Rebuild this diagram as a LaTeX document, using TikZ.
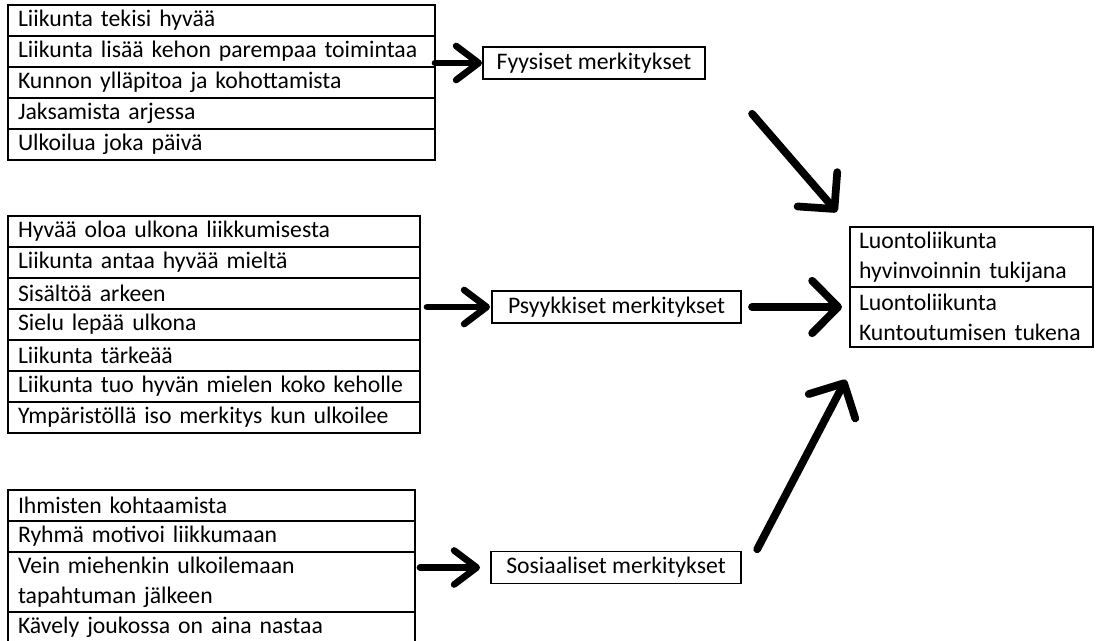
\documentclass[tikz,border=0pt]{standalone}
\usepackage{fontspec}
\setmainfont{Carlito}
\usepackage{tikz}
\usetikzlibrary{positioning,arrows.meta,calc}

\tikzset{
    rivi/.style={draw, line width=0.8pt, outer sep=0pt, inner xsep=0.2cm, inner ysep=0pt,
                 minimum height=0.62cm, text width=#1, align=left},
    merkitys/.style={draw, line width=0.8pt, outer sep=0pt, inner xsep=0.2cm, minimum height=0.6cm},
    nuoli/.style={line width=3.8pt, line cap=round, -{Straight Barb[round,length=0.45cm,width=0.68cm]}},
    isonuoli/.style={line width=4.4pt, line cap=round, -{Straight Barb[round,length=0.52cm,width=1.05cm]}}
}

\begin{document}
\begin{tikzpicture}[font=\fontsize{13.5}{17}\selectfont]
    \useasboundingbox (0,0) rectangle (22.02,-12.82);
    % Disegna la prima lista (fyysiset)
    \node[rivi=8.14cm, anchor=north west] (f1) at (0.16,-0.1) {Liikunta tekisi hyvää};
    \node[rivi=8.14cm, below=0pt of f1] (f2) {Liikunta lisää kehon parempaa toimintaa};
    \node[rivi=8.14cm, below=0pt of f2] (f3) {Kunnon ylläpitoa ja kohottamista};
    \node[rivi=8.14cm, below=0pt of f3] (f4) {Jaksamista arjessa};
    \node[rivi=8.14cm, below=0pt of f4] (f5) {Ulkoilua joka päivä};
    % Disegna la seconda lista (psyykkiset)
    \node[rivi=7.84cm, anchor=north west] (p1) at (0.16,-4.32) {Hyvää oloa ulkona liikkumisesta};
    \node[rivi=7.84cm, below=0pt of p1] (p2) {Liikunta antaa hyvää mieltä};
    \node[rivi=7.84cm, below=0pt of p2] (p3) {Sisältöä arkeen};
    \node[rivi=7.84cm, below=0pt of p3] (p4) {Sielu lepää ulkona};
    \node[rivi=7.84cm, below=0pt of p4] (p5) {Liikunta tärkeää};
    \node[rivi=7.84cm, below=0pt of p5] (p6) {Liikunta tuo hyvän mielen koko keholle};
    \node[rivi=7.84cm, below=0pt of p6] (p7) {Ympäristöllä iso merkitys kun ulkoilee};
    % Disegna la terza lista (sosiaaliset)
    \node[rivi=7.74cm, anchor=north west] (s1) at (0.16,-9.8) {Ihmisten kohtaamista};
    \node[rivi=7.74cm, below=0pt of s1] (s2) {Ryhmä motivoi liikkumaan};
    \node[rivi=7.74cm, below=0pt of s2, minimum height=1.2cm] (s3) {Vein miehenkin ulkoilemaan\\tapahtuman jälkeen};
    \node[rivi=7.74cm, below=0pt of s3] (s4) {Kävely joukossa on aina nastaa};
    % Le tre merkitykset
    \node[merkitys, minimum width=4.44cm] (fyy) at (11.88,-1.26) {Fyysiset merkitykset};
    \node[merkitys, minimum width=4.98cm] (psy) at (12.33,-6.14) {Psyykkiset merkitykset};
    \node[merkitys, minimum width=5.0cm] (sos) at (12.32,-11.35) {Sosiaaliset merkitykset};
    % Riquadro a destra
    \node[rivi=4.5cm, inner xsep=0.18cm, minimum height=1.2cm] (luo1) at (19.43,-5.14) {Luontoliikunta\\hyvinvoinnin tukijana};
    \node[rivi=4.5cm, inner xsep=0.18cm, minimum height=1.2cm, below=0pt of luo1] (luo2) {Luontoliikunta\\Kuntoutumisen tukena};
    % Frecce
    \draw[nuoli, shorten >=0.02cm] (f1.east |- fyy.west) -- (fyy.west);
    \draw[nuoli, shorten <=0.14cm, shorten >=0.04cm] (p1.east |- psy.west) -- (psy.west);
    \draw[nuoli, shorten <=0.1cm, shorten >=0.22cm] (s1.east |- sos.west) -- (sos.west);
    \draw[isonuoli, shorten <=0.22cm, shorten >=0.16cm] (psy.east) -- (psy.east -| luo1.west);
    \draw[isonuoli, shorten <=0.92cm, shorten >=0.4cm] ($(fyy.south east)+(0.34,0)$) -- (luo1.north west);
    \draw[isonuoli, shorten <=0.05cm, shorten >=0.74cm] ($(sos.north east)+(0.3,0)$) -- ($(luo2.south west)+(0.26,0)$);
\end{tikzpicture}
\end{document}
